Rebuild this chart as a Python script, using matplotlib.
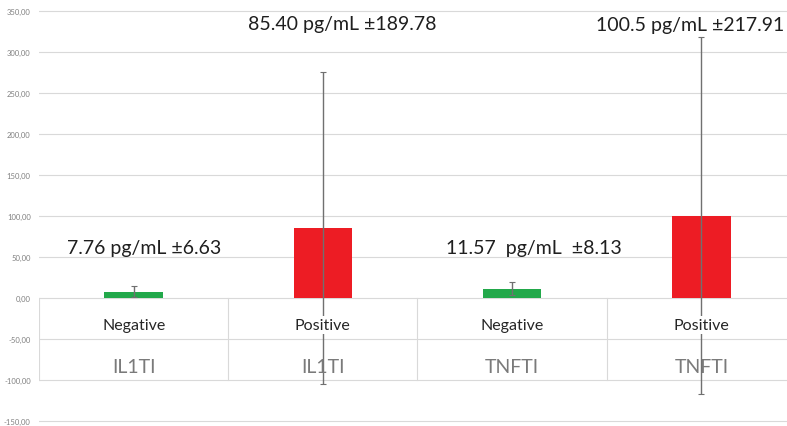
import matplotlib
matplotlib.use("Agg")
import matplotlib.pyplot as plt
import numpy as np

# data
groups = ["IL1TI", "IL1TI", "TNFTI", "TNFTI"]
status = ["Negative", "Positive", "Negative", "Positive"]
means = [7.76, 85.40, 11.57, 100.5]
sds = [6.63, 189.78, 8.13, 217.91]
notes = ["7.76 pg/mL ±6.63", "85.40 pg/mL ±189.78",
         "11.57  pg/mL  ±8.13", "100.5 pg/mL ±217.91"]
yticks = np.arange(-150, 351, 50)

bar_colors = ["#22a84a", "#ed1c24", "#22a84a", "#ed1c24"]
grid_col = "#d9d9d9"

plt.rcParams["font.family"] = ["Lato", "DejaVu Sans"]

fig = plt.figure(figsize=(7.87, 4.27), dpi=100)
# plot box runs a little past the right edge, like the original
ax = fig.add_axes([39 / 787, 2.5 / 427, 757 / 787, 415 / 427])

x = np.arange(len(means))
ax.bar(x, means, width=0.31, color=bar_colors, zorder=2)
ax.errorbar(x, means, yerr=sds, fmt="none", ecolor="#707070",
            elinewidth=1, capsize=2, capthick=0.8, zorder=3)

ax.set_xlim(-0.5, 3.5)
ax.set_ylim(-153, 353)
ax.set_yticks(yticks)
ax.set_yticklabels([f"{v:.2f}".replace(".", ",") for v in yticks],
                   fontsize=5.5, color="#808080")
ax.tick_params(axis="y", length=0, pad=6)
ax.set_xticks([])
ax.grid(axis="y", color=grid_col, linewidth=0.8, zorder=0)
ax.set_axisbelow(True)
for s in ax.spines.values():
    s.set_visible(False)

# table-like category box under the zero line
for xi in np.arange(-0.5, 3.5, 1.0):
    ax.plot([xi, xi], [0, -100], color=grid_col, linewidth=0.8, zorder=1)

for i in range(len(means)):
    ax.text(x[i], -33, status[i], ha="center", va="center", fontsize=11.5,
            color="#262626", zorder=4,
            bbox=dict(facecolor="white", edgecolor="none", pad=1.5))
    ax.text(x[i], -84, groups[i], ha="center", va="center", fontsize=14,
            color="#7a7a7a", zorder=4)

# value annotations
note_dx = [0.053, 0.10, 0.116, -0.058]
note_y = [62, 335, 62, 334]
for i in range(len(means)):
    ax.text(x[i] + note_dx[i], note_y[i], notes[i], ha="center", va="center",
            fontsize=14, color="#1f1f1f", zorder=4)

fig.savefig("out.png", dpi=100)
